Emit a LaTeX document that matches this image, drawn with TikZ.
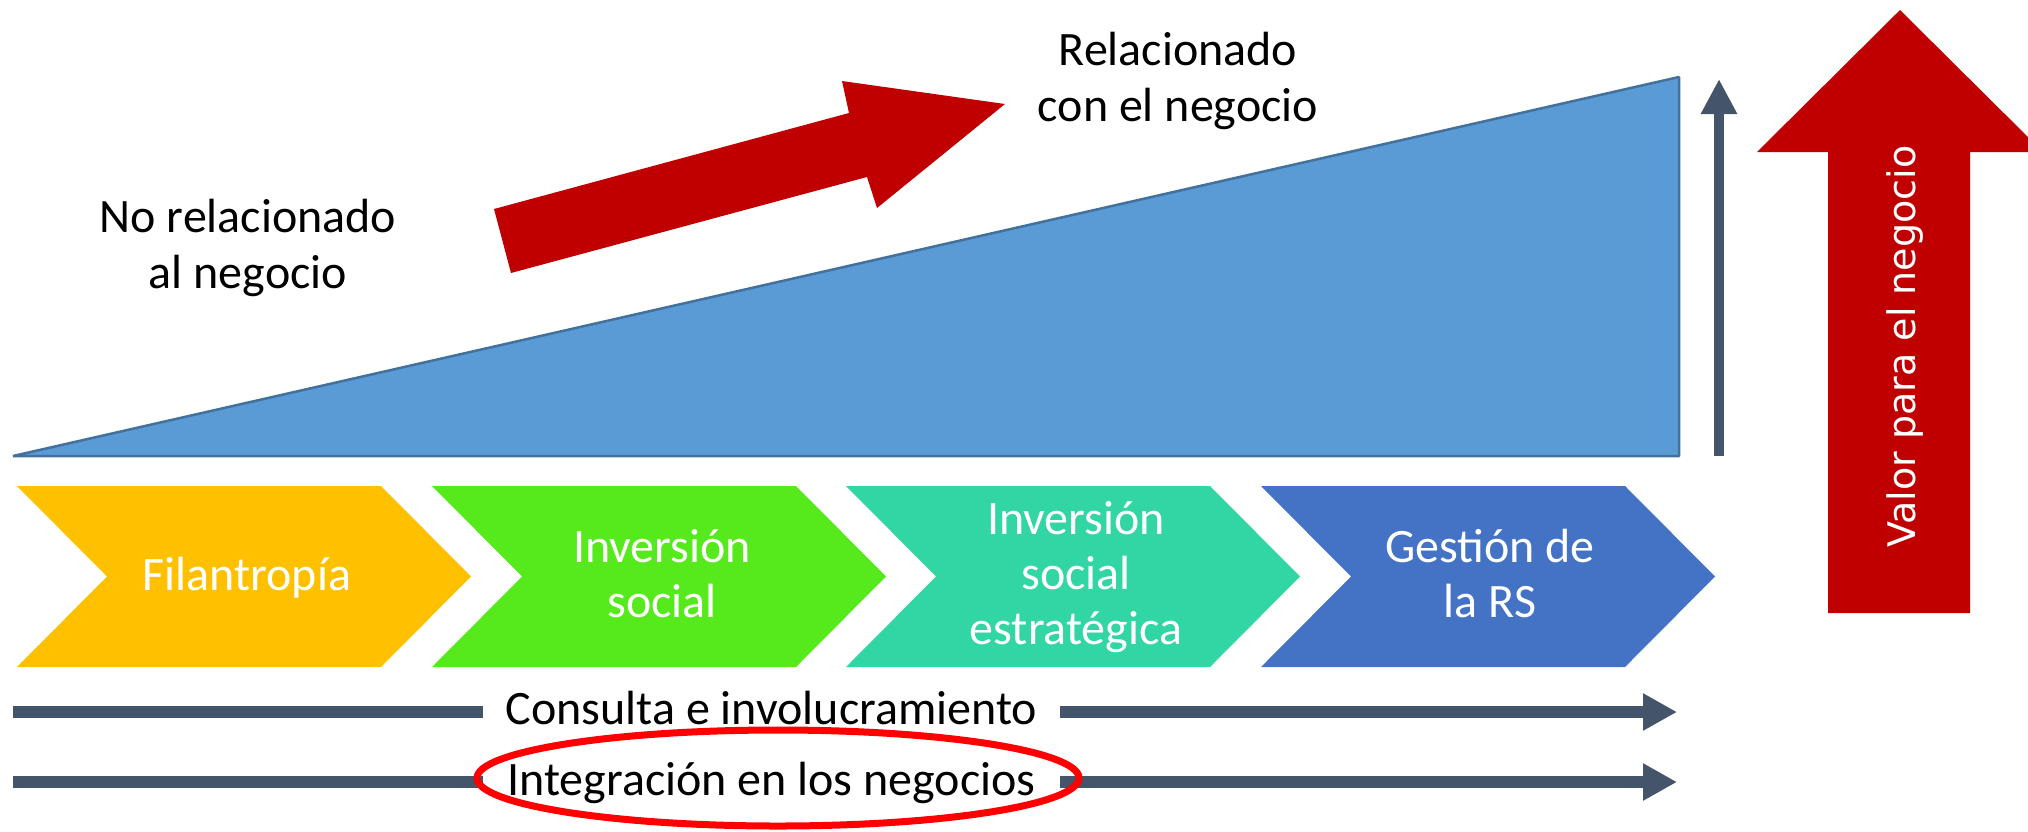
\documentclass[tikz,border=0pt]{standalone}
\usepackage{fontspec}
\setmainfont{Carlito}
\newfontfamily\dejavu{DejaVu Sans}
\usetikzlibrary{arrows.meta}
\definecolor{barblue}{HTML}{5B9BD5}
\definecolor{barline}{HTML}{41719C}
\definecolor{darkred}{HTML}{C00000}
\definecolor{slate}{HTML}{44546A}
\definecolor{cyellow}{HTML}{FFC000}
\definecolor{cgreen}{HTML}{56EA1C}
\definecolor{cteal}{HTML}{31D6A4}
\definecolor{cblue}{HTML}{4472C4}
\newcommand\topstrut{\rule{0pt}{40pt}}
\newcommand\botstrut{\rule[-40pt]{0pt}{40pt}}
\begin{document}
\begin{tikzpicture}[x=1pt,y=-1pt,
  bigtext/.style={font={\fontsize{48}{56}\selectfont}, align=center, inner sep=0pt, text=black},
  chevtext/.style={font={\fontsize{48}{55}\selectfont}, align=center, inner sep=0pt, text=white},
  graybar/.style={draw=slate, line width=12pt},
  grayarrow/.style={draw=slate, line width=12pt, -{Triangle[length=34pt,width=35pt]}},
  blockred/.style={fill=darkred, draw=none},
]
\useasboundingbox (0,0) rectangle (2028,831);

% blue wedge
\draw[fill=barblue, draw=barline, line width=2.5pt, line join=bevel]
  (13,456) -- (1679,77) -- (1679,456) -- cycle;

% diagonal red block arrow
\fill[blockred] (494,209) -- (849,113) -- (842,81) -- (1005,104) -- (877,208) -- (867,177) -- (511,273) -- cycle;

% texts top
\node[bigtext] (norel) at (248,260) {\topstrut No relacionado\\al negocio\botstrut};
\node[bigtext] (rel) at (1178,93.5) {\topstrut Relacionado\\con el negocio\botstrut};

% thin vertical arrow
\coordinate (vbot) at (1719,456);
\coordinate (vtop) at (1719,79);
\draw[draw=slate, line width=10pt, -{Triangle[length=35pt,width=34pt]}] (vbot) -- (vtop);

% big red up arrow
\fill[blockred] (1828,613) -- (1828,152) -- (1757,152) -- (1900,10) -- (2043,152) -- (1970,152) -- (1970,613) -- cycle;
\node[font={\dejavu\fontsize{38}{44}\selectfont}, text=white, rotate=90, anchor=base, inner sep=0pt] (valor) at (1915,346.5) {Valor para el negocio};

% chevrons
\fill[cyellow] (17,486) -- (381,486) -- (471,576.5) -- (381,667) -- (17,667) -- (107,576.5) -- cycle;
\fill[cgreen] (432,486) -- (796,486) -- (886,576.5) -- (796,667) -- (432,667) -- (522,576.5) -- cycle;
\fill[cteal] (846,486) -- (1210,486) -- (1300,576.5) -- (1210,667) -- (846,667) -- (936,576.5) -- cycle;
\fill[cblue] (1261,486) -- (1625,486) -- (1715,576.5) -- (1625,667) -- (1261,667) -- (1351,576.5) -- cycle;

\node[chevtext, anchor=base] (c1) at (247,590) {Filantropía};
\node[chevtext] (c2) at (662,590) {\topstrut Inversión\\social\botstrut};
\node[chevtext] (c3) at (1076,589) {\topstrut Inversión\\social\\estratégica\botstrut};
\node[chevtext] (c4) at (1490,589.5) {\topstrut Gestión de\\la RS\botstrut};

% bottom arrows
\coordinate (s1) at (13,712);
\coordinate (e1) at (1677,712);
\node[bigtext, anchor=base, minimum width=577pt] (t1) at (771.5,724) {Consulta e involucramiento};
\draw[graybar] (s1) -- (s1 -| t1.west);
\draw[grayarrow] (t1.east |- s1) -- (e1);

\coordinate (s2) at (13,782);
\coordinate (e2) at (1677,782);
\node[bigtext, anchor=base, minimum width=577pt] (t2) at (771.5,795) {Integración en los negocios};
\draw[graybar] (s2) -- (s2 -| t2.west);
\draw[grayarrow] (t2.east |- s2) -- (e2);

% red highlight ellipse
\draw[red, line width=7pt] (778,778) ellipse [x radius=301, y radius=48];
\end{tikzpicture}
\end{document}
